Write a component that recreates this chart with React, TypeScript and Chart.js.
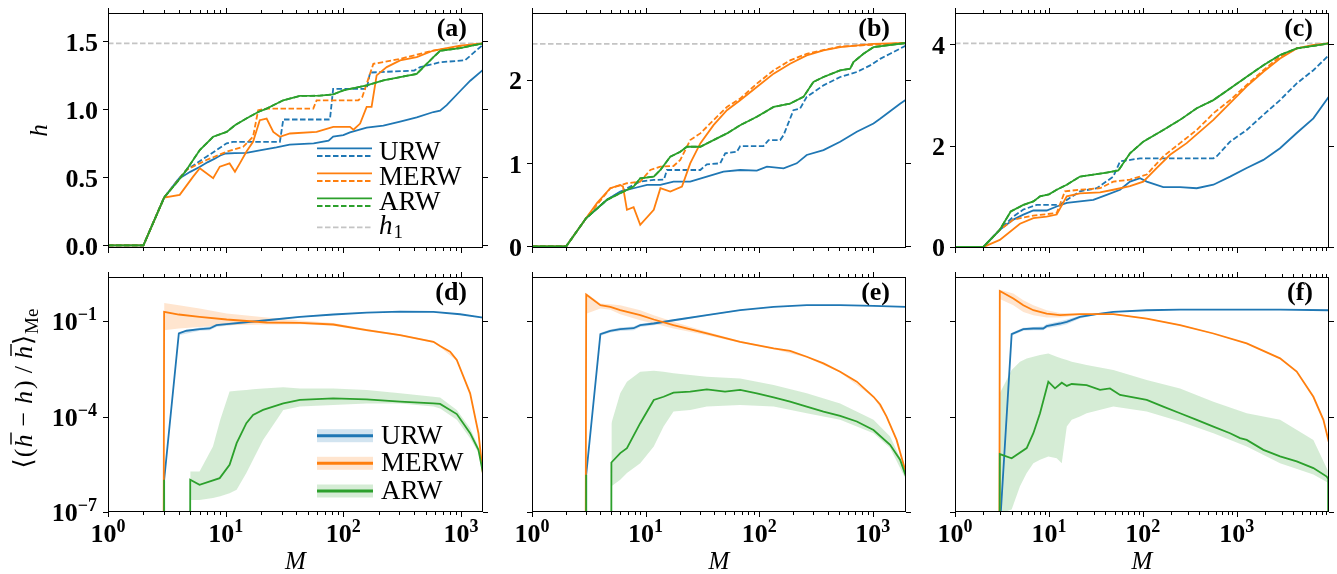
import React, { useEffect, useRef } from 'react';
import { Chart, registerables } from 'chart.js';

Chart.register(...registerables);

// ---------------- style constants ----------------
const FONT = "'Liberation Serif', 'DejaVu Serif', 'DejaVu Sans', serif";
const BLUE = '#1f77b4';
const ORANGE = '#ff7f0e';
const GREEN = '#2ca02c';
const GRAY = '#c4c4c4';
const BLUE_BAND = 'rgba(31,119,180,0.2)';
const ORANGE_BAND = 'rgba(255,127,14,0.2)';
const GREEN_BAND = 'rgba(44,160,44,0.2)';

// ---------------- axes ----------------
const X_MIN = 1;
const X_MAX = [1540, 1960, 9600];
const X_MAJOR = [1, 10, 100, 1000];
const X_MAJOR_EXP = ['0', '1', '2', '3'];
const X_MINOR_FACTORS = [2, 3, 4, 5, 6, 7, 8, 9];
const H1 = [1.485, 2.43, 4.02];
const Y_TOP_MIN = -0.02;
const Y_TOP_MAX = [1.708, 2.8, 4.62];
const Y_TOP_TICKS = [[0, 0.5, 1.0, 1.5], [0, 1, 2], [0, 2, 4]];
const Y_TOP_LABELS = [['0.0', '0.5', '1.0', '1.5'], ['0', '1', '2'], ['0', '2', '4']];
const Y_BOT_MIN = 1e-7;
const Y_BOT_MAX = 2.45;
const Y_BOT_TICKS = [1e-7, 1e-4, 1e-1];
const Y_BOT_EXP = ['\u22127', '\u22124', '\u22121'];
const PANEL_LABELS = [['(a)', '(b)', '(c)'], ['(d)', '(e)', '(f)']];
const SERIES_NAMES = ['URW', 'MERW', 'ARW'];

// ---------------- panel (a) ----------------
const A_URW_M = [1, 2, 3, 4, 5, 6, 7, 8, 9, 10, 12, 15, 20, 27, 35, 56, 75, 82, 100, 114, 158, 219, 304, 421, 584, 665, 757, 1000, 1200, 1540];
const A_URW_H = [0, 0, 0.351, 0.49, 0.54, 0.575, 0.61, 0.635, 0.66, 0.675, 0.678, 0.68, 0.7, 0.72, 0.74, 0.75, 0.77, 0.8, 0.81, 0.83, 0.865, 0.88, 0.91, 0.94, 0.98, 0.99, 1.03, 1.14, 1.21, 1.29];
const A_URWD_M = [1, 2, 3, 4, 4.64, 6.87, 10.2, 11.5, 28.9, 30.9, 77, 82, 158, 169, 400, 450, 665, 1083, 1300, 1540];
const A_URWD_H = [0, 0, 0.351, 0.49, 0.554, 0.651, 0.75, 0.76, 0.76, 0.925, 0.925, 1.15, 1.15, 1.27, 1.285, 1.31, 1.346, 1.36, 1.42, 1.475];
const A_MERW_M = [1, 2, 3, 4.07, 5.29, 6.03, 7.83, 8.92, 10.8, 12.0, 13.2, 15.0, 17.1, 19.5, 22.3, 25.4, 28.9, 35.2, 59.3, 82.2, 114, 122, 139, 158, 174, 192, 234, 304, 421, 584, 984, 1540];
const A_MERW_H = [0, 0, 0.351, 0.371, 0.505, 0.566, 0.493, 0.578, 0.602, 0.541, 0.602, 0.688, 0.761, 0.92, 0.932, 0.834, 0.798, 0.822, 0.834, 0.871, 0.871, 0.85, 0.895, 1.017, 1.017, 1.249, 1.31, 1.359, 1.383, 1.432, 1.468, 1.485];
const A_MERWD_M = [1, 2, 3, 4.64, 6.87, 10.2, 14.1, 17.1, 18.9, 22.3, 55.6, 59.3, 134, 145, 180, 304, 584, 1540];
const A_MERWD_H = [0, 0, 0.351, 0.554, 0.627, 0.688, 0.724, 0.798, 0.993, 1.005, 1.005, 1.066, 1.066, 1.09, 1.334, 1.371, 1.432, 1.485];
const A_ARW_M = [1, 2, 3, 4, 4.64, 6.03, 7.83, 10.2, 12, 15, 18.9, 22.3, 25.4, 30.9, 42.8, 63.3, 82.2, 100, 158, 219, 304, 421, 480, 584, 665, 984, 1540];
const A_ARW_H = [0, 0, 0.351, 0.48, 0.554, 0.7, 0.798, 0.834, 0.883, 0.932, 0.98, 1.005, 1.03, 1.066, 1.098, 1.1, 1.11, 1.139, 1.176, 1.212, 1.237, 1.26, 1.31, 1.383, 1.43, 1.45, 1.485];

// ---------------- panel (b) ----------------
const B_URW_M = [1, 2, 3, 4.57, 5.98, 7.84, 10.3, 13.5, 17.6, 24.7, 34.6, 48.5, 68, 95.3, 117, 164, 214, 262, 368, 516, 723, 1014, 1160, 1420, 1738, 1960];
const B_URW_H = [0, 0, 0.339, 0.558, 0.657, 0.697, 0.737, 0.737, 0.777, 0.777, 0.837, 0.896, 0.916, 0.908, 0.956, 0.936, 0.996, 1.096, 1.155, 1.255, 1.375, 1.474, 1.53, 1.62, 1.71, 1.76];
const B_URWD_M = [1, 2, 3, 4.57, 6.85, 8.97, 11.8, 14.5, 15.4, 30.3, 34.6, 45.4, 50.2, 63.6, 68, 109, 121, 153, 164, 200, 229, 262, 368, 516, 723, 948, 1160, 1420, 1960];
const B_URWD_H = [0, 0, 0.339, 0.558, 0.697, 0.777, 0.797, 0.8, 0.916, 0.916, 0.984, 0.996, 1.116, 1.135, 1.203, 1.203, 1.275, 1.275, 1.335, 1.633, 1.653, 1.793, 1.932, 2.032, 2.092, 2.171, 2.25, 2.311, 2.41];
const B_MERW_M = [1, 2, 3, 3.73, 4.89, 5.98, 6.32, 6.85, 7.84, 8.97, 11.8, 13.5, 16.5, 20.9, 24.7, 30.3, 39.6, 52, 68, 95.3, 134, 187, 262, 368, 516, 1014, 1960];
const B_MERW_H = [0, 0, 0.339, 0.518, 0.697, 0.737, 0.717, 0.438, 0.47, 0.259, 0.438, 0.697, 0.657, 0.717, 0.996, 1.235, 1.454, 1.633, 1.753, 1.912, 2.072, 2.191, 2.291, 2.351, 2.39, 2.43, 2.44];
const B_MERWD_M = [1, 2, 3, 4.89, 6.85, 8.97, 11.0, 13.5, 17.6, 20.2, 24.7, 30.3, 39.6, 52, 68, 95.3, 134, 187, 262, 516, 1960];
const B_MERWD_H = [0, 0, 0.339, 0.697, 0.757, 0.777, 0.916, 0.956, 0.964, 1.036, 1.275, 1.355, 1.514, 1.673, 1.773, 1.952, 2.112, 2.231, 2.311, 2.398, 2.44];
const B_ARW_M = [1, 2, 3, 4.57, 5.98, 7.84, 8.97, 11.8, 13.5, 16.5, 20.2, 23.1, 30.3, 39.6, 52, 68, 95.3, 134, 187, 245, 300, 368, 516, 632, 676, 828, 1014, 1960];
const B_ARW_H = [0, 0, 0.339, 0.558, 0.637, 0.717, 0.817, 0.837, 0.916, 1.076, 1.135, 1.195, 1.195, 1.275, 1.355, 1.454, 1.554, 1.673, 1.713, 1.793, 1.972, 2.032, 2.112, 2.131, 2.211, 2.311, 2.39, 2.44];

// ---------------- panel (c) ----------------
const C_URW_M = [1, 2, 3, 4.18, 5.34, 6.83, 9.46, 12.1, 15.5, 21.4, 29.7, 41.2, 57.2, 73, 93.4, 110, 165, 249, 375, 564, 849, 1277, 1922, 2891, 4350, 6546, 9600];
const C_URW_H = [0, 0, 0.34, 0.54, 0.64, 0.72, 0.72, 0.8, 0.87, 0.9, 0.93, 1.03, 1.13, 1.29, 1.36, 1.29, 1.18, 1.18, 1.16, 1.23, 1.39, 1.56, 1.72, 1.95, 2.25, 2.54, 2.97];
const C_URWD_M = [1, 2, 3, 4.18, 5.34, 7.41, 13.1, 15.5, 21.4, 32.3, 48.5, 57.2, 93.4, 564, 612, 849, 1277, 1922, 2891, 4350, 6546, 9600];
const C_URWD_H = [0, 0, 0.34, 0.6, 0.74, 0.83, 0.83, 0.93, 1.1, 1.16, 1.39, 1.69, 1.75, 1.75, 1.79, 2.08, 2.31, 2.61, 2.9, 3.23, 3.49, 3.79];
const C_MERW_M = [1, 2, 3, 4.92, 6.83, 9.46, 12.1, 15.5, 21.4, 35, 48.5, 73, 101, 141, 195, 293, 564, 849, 1277, 1922, 2891, 4350, 6546, 9600];
const C_MERW_H = [0, 0, 0.14, 0.46, 0.57, 0.6, 0.64, 1.0, 1.06, 1.08, 1.13, 1.2, 1.29, 1.56, 1.82, 2.05, 2.51, 2.84, 3.17, 3.46, 3.72, 3.92, 3.99, 4.02];
const C_MERWD_M = [1, 2, 3, 4.18, 6.83, 12.1, 14.8, 21.4, 35, 48.5, 73, 110, 165, 249, 375, 564, 849, 1277, 1922, 2891, 4350, 9600];
const C_MERWD_H = [0, 0, 0.34, 0.54, 0.62, 0.67, 1.1, 1.13, 1.16, 1.29, 1.33, 1.43, 1.79, 2.05, 2.31, 2.64, 2.9, 3.2, 3.49, 3.76, 3.92, 4.02];
const C_ARW_M = [1, 2, 3, 3.92, 5.34, 6.83, 8.04, 10, 12.1, 15.5, 21.4, 29.7, 41.2, 54.9, 73, 101, 165, 249, 375, 564, 849, 1277, 1922, 2891, 4350, 6546, 9600];
const C_ARW_H = [0, 0, 0.34, 0.7, 0.83, 0.9, 1.0, 1.04, 1.13, 1.23, 1.39, 1.43, 1.47, 1.51, 1.85, 2.08, 2.31, 2.51, 2.74, 2.9, 3.13, 3.36, 3.59, 3.79, 3.92, 3.97, 4.02];

// ---------------- panel (d) ----------------
const D_URW_M = [2, 3, 4, 4.64, 6.03, 7.33, 8.36, 10.2, 22.3, 42.8, 82.2, 158, 304, 584, 984, 1540];
const D_URW_V = [1e-300, 1.0e-6, 0.041, 0.05, 0.056, 0.059, 0.075, 0.0805, 0.107, 0.137, 0.162, 0.187, 0.2, 0.195, 0.165, 0.13];
const D_URW_BAND_M = [4, 6.03, 7.33, 8.36, 10.2, 22.3, 42.8, 82.2, 158, 304, 584, 984, 1540];
const D_URW_LO = [0.036, 0.05, 0.052, 0.066, 0.072, 0.1, 0.131, 0.157, 0.183, 0.196, 0.191, 0.161, 0.127];
const D_URW_HI = [0.046, 0.063, 0.068, 0.082, 0.088, 0.114, 0.143, 0.167, 0.191, 0.204, 0.199, 0.169, 0.133];
const D_MERW_M = [2, 3, 4, 6, 10.2, 22.3, 42.8, 82.2, 158, 304, 584, 665, 809, 922, 1197, 1409, 1540];
const D_MERW_V = [1e-300, 0.196, 0.162, 0.137, 0.113, 0.0908, 0.0887, 0.0786, 0.0522, 0.0364, 0.0225, 0.0165, 0.011, 0.006, 5.4e-4, 3.0e-5, 1.5e-6];
const D_MERW_BAND_M = [3, 4, 6, 10.2, 22.3, 42.8, 82.2, 158, 304, 584, 665, 922, 1197, 1409, 1540];
const D_MERW_LO = [0.052, 0.059, 0.066, 0.075, 0.079, 0.08, 0.072, 0.048, 0.034, 0.021, 0.0155, 0.0056, 5.0e-4, 2.7e-5, 1.3e-6];
const D_MERW_HI = [0.376, 0.318, 0.249, 0.174, 0.13, 0.105, 0.088, 0.057, 0.039, 0.024, 0.0175, 0.0064, 5.8e-4, 3.3e-5, 1.7e-6];
const D_ARW_M = [2, 3, 4, 5, 6, 8.9, 10.8, 12.4, 15, 17.1, 20.8, 30.9, 42.8, 82.2, 158, 304, 584, 665, 922, 1197, 1409, 1540];
const D_ARW_V = [1e-300, 1.03e-6, 1e-300, 1.03e-6, 7.2e-7, 1.16e-6, 3.05e-6, 1.46e-5, 6.2e-5, 1.13e-4, 1.62e-4, 2.62e-4, 3.33e-4, 3.76e-4, 3.5e-4, 2.95e-4, 2.62e-4, 2.5e-4, 1.2e-4, 3.0e-5, 9.0e-6, 1.67e-6];
const D_ARW_BAND_M = [5, 6, 7.8, 9, 10.8, 12.4, 15, 17.1, 20.8, 30.9, 42.8, 82.2, 158, 304, 584, 665, 922, 1197, 1409, 1540];
const D_ARW_LO = [2.4e-7, 2.4e-7, 2.75e-7, 3.1e-7, 3.9e-7, 5.0e-7, 1.67e-6, 4.4e-6, 1.85e-5, 1.6e-4, 2.06e-4, 2.3e-4, 2.6e-4, 2.6e-4, 2.06e-4, 1.8e-4, 7.9e-5, 2.1e-5, 7.1e-6, 1.3e-6];
const D_ARW_HI = [1.88e-6, 1.88e-6, 1.15e-5, 7.9e-5, 6.1e-4, 6.5e-4, 6.9e-4, 7.3e-4, 7.7e-4, 8.3e-4, 7.7e-4, 7.7e-4, 6.9e-4, 5.4e-4, 4.2e-4, 4.0e-4, 1.6e-4, 4.3e-5, 1.15e-5, 1.9e-6];

// ---------------- panel (e) ----------------
const E_URW_M = [2, 3, 4, 4.89, 5.98, 7.84, 8.97, 11.8, 17.6, 34.6, 68, 134, 262, 516, 1014, 1960];
const E_URW_V = [1e-300, 1.48e-6, 0.039, 0.0498, 0.0561, 0.06, 0.075, 0.0845, 0.107, 0.154, 0.221, 0.281, 0.318, 0.318, 0.303, 0.281];
const E_URW_BAND_M = [4, 4.89, 5.98, 7.84, 8.97, 11.8, 17.6, 34.6, 68, 134, 262, 516, 1014, 1960];
const E_URW_LO = [0.035, 0.044, 0.049, 0.052, 0.066, 0.075, 0.098, 0.146, 0.213, 0.274, 0.312, 0.312, 0.297, 0.276];
const E_URW_HI = [0.043, 0.055, 0.063, 0.068, 0.083, 0.094, 0.116, 0.162, 0.229, 0.288, 0.324, 0.324, 0.309, 0.286];
const E_MERW_M = [2, 3, 4, 4.89, 5.98, 8.97, 11.8, 17.6, 34.6, 68, 95.3, 134, 187, 262, 368, 516, 723, 1014, 1160, 1322, 1620, 1960];
const E_MERW_V = [1e-300, 0.685, 0.318, 0.281, 0.221, 0.154, 0.113, 0.075, 0.041, 0.0225, 0.0177, 0.0139, 0.0117, 0.0076, 0.0047, 0.00258, 0.00125, 4.2e-4, 2.4e-4, 1.0e-4, 1.85e-5, 1.67e-6];
const E_MERW_BAND_M = [3, 4, 4.89, 5.98, 8.97, 11.8, 17.6, 34.6, 68, 134, 262, 516, 1014, 1322, 1620, 1960];
const E_MERW_LO = [0.17, 0.25, 0.23, 0.166, 0.107, 0.0845, 0.0589, 0.0364, 0.021, 0.0132, 0.0072, 0.00245, 4.0e-4, 0.95e-4, 1.75e-5, 1.6e-6];
const E_MERW_HI = [0.77, 0.36, 0.34, 0.318, 0.221, 0.154, 0.0955, 0.0462, 0.024, 0.0146, 0.008, 0.0027, 4.4e-4, 1.05e-4, 1.95e-5, 1.75e-6];
const E_ARW_M = [2, 3, 4, 5, 5.98, 6.85, 8.97, 11.8, 14.4, 17.6, 24.7, 34.6, 50, 68, 95.3, 134, 187, 262, 368, 516, 723, 1014, 1420, 1738, 1960];
const E_ARW_V = [1e-300, 1.48e-6, 1e-300, 3.6e-6, 7.1e-6, 1.02e-5, 6.2e-5, 3.33e-4, 4.2e-4, 5.7e-4, 6.1e-4, 7.2e-4, 6.1e-4, 6.9e-4, 5.4e-4, 4.0e-4, 2.95e-4, 2.06e-4, 1.44e-4, 1.05e-4, 7.0e-5, 3.8e-5, 1.3e-5, 4.4e-6, 1.3e-6];
const E_ARW_BAND_M = [5, 5.98, 6.85, 8.97, 11.8, 14.4, 17.6, 24.7, 34.6, 68, 134, 262, 516, 1014, 1420, 1960];
const E_ARW_LO = [6.4e-7, 1.03e-6, 1.67e-6, 3.4e-6, 1.15e-5, 4.85e-5, 1.44e-4, 1.62e-4, 2.06e-4, 2.3e-4, 2.06e-4, 1.27e-4, 7.9e-5, 3.0e-5, 1.02e-5, 1.03e-6];
const E_ARW_HI = [6.2e-5, 5.4e-4, 1.25e-3, 2.58e-3, 2.77e-3, 2.58e-3, 2.29e-3, 2.03e-3, 1.8e-3, 1.59e-3, 9.8e-4, 5.4e-4, 2.6e-4, 7.9e-5, 2.36e-5, 2.1e-6];

// ---------------- panel (f) ----------------
const F_URW_M = [2, 3, 4.01, 5.34, 6.83, 8.7, 9.46, 13.1, 15.5, 21.4, 32.3, 48.5, 110, 249, 564, 2891, 9600];
const F_URW_V = [1e-300, 3e-8, 0.039, 0.0561, 0.0589, 0.0589, 0.0697, 0.0845, 0.0953, 0.137, 0.166, 0.196, 0.221, 0.232, 0.232, 0.232, 0.221];
const F_URW_BAND_M = [4.01, 5.34, 6.83, 8.7, 9.46, 13.1, 15.5, 21.4, 32.3, 48.5, 110, 249, 564, 2891, 9600];
const F_URW_LO = [0.035, 0.05, 0.052, 0.052, 0.06, 0.07, 0.08, 0.122, 0.158, 0.19, 0.216, 0.228, 0.228, 0.228, 0.217];
const F_URW_HI = [0.043, 0.062, 0.066, 0.068, 0.082, 0.1, 0.112, 0.15, 0.174, 0.202, 0.226, 0.236, 0.236, 0.236, 0.225];
const F_MERW_M = [2, 3, 4.18, 5.34, 6.83, 9.46, 13.1, 21.4, 48.5, 110, 249, 564, 1277, 2891, 4350, 6546, 8370, 9600];
const F_MERW_V = [1e-300, 0.893, 0.514, 0.318, 0.221, 0.174, 0.154, 0.166, 0.166, 0.121, 0.075, 0.041, 0.02, 0.0068, 0.0026, 4.2e-4, 7.9e-5, 1.5e-5];
const F_MERW_BAND_M = [3, 4.18, 5.34, 6.83, 9.46, 13.1, 21.4, 48.5, 110, 249, 564, 1277, 2891, 4350, 6546, 8370, 9600];
const F_MERW_LO = [0.5, 0.318, 0.196, 0.154, 0.13, 0.13, 0.154, 0.16, 0.117, 0.072, 0.0395, 0.0193, 0.0065, 0.0025, 4.0e-4, 7.5e-5, 1.4e-5];
const F_MERW_HI = [0.98, 0.738, 0.456, 0.318, 0.221, 0.182, 0.174, 0.172, 0.125, 0.078, 0.0425, 0.0207, 0.0071, 0.0027, 4.4e-4, 8.3e-5, 1.6e-5];
const F_ARW_M = [2, 3, 4.01, 5.8, 6.83, 8.04, 9.86, 11.6, 13.7, 15.5, 17.5, 25.2, 35, 44.7, 57.2, 110, 165, 249, 375, 564, 849, 1084, 1277, 1922, 2891, 4350, 6546, 9080, 9400, 9600];
const F_ARW_V = [1e-300, 6.6e-6, 4.9e-6, 1.02e-5, 3.0e-5, 1.27e-4, 1.25e-3, 7.7e-4, 1.16e-3, 9.2e-4, 1.06e-3, 9.8e-4, 6.9e-4, 7.7e-4, 4.8e-4, 3.33e-4, 2.06e-4, 1.27e-4, 7.9e-5, 4.85e-5, 3.0e-5, 2.1e-5, 1.85e-5, 9.0e-6, 5.6e-6, 3.9e-6, 2.4e-6, 1.3e-6, 1.1e-6, 1e-300];
const F_ARW_BAND_M = [3, 4.01, 4.92, 5.8, 6.83, 8.04, 9.86, 12.1, 13.7, 15.5, 17.5, 21.4, 25.2, 48.5, 110, 249, 564, 1277, 2891, 6546, 9600];
const F_ARW_LO = [9e-8, 1.2e-7, 6.4e-7, 1.67e-6, 3.4e-6, 4.4e-6, 5.6e-6, 4.9e-6, 3.4e-6, 4.85e-5, 7.9e-5, 1.0e-4, 1.27e-4, 2.06e-4, 1.44e-4, 7.0e-5, 3.0e-5, 1.15e-5, 3.4e-6, 1.5e-6, 8e-7];
const F_ARW_HI = [5.4e-4, 2.9e-3, 5.3e-3, 6.7e-3, 7.6e-3, 8.6e-3, 9.7e-3, 7.6e-3, 6.7e-3, 6.0e-3, 5.3e-3, 4.7e-3, 4.2e-3, 2.9e-3, 1.41e-3, 7.7e-4, 2.95e-4, 1.27e-4, 7.9e-5, 1.85e-5, 1.67e-6];

// ---------------- grouping ----------------
const TOP_SERIES = [
  { urw: [A_URW_M, A_URW_H], urwd: [A_URWD_M, A_URWD_H], merw: [A_MERW_M, A_MERW_H], merwd: [A_MERWD_M, A_MERWD_H], arw: [A_ARW_M, A_ARW_H], arwd: [A_ARW_M, A_ARW_H] },
  { urw: [B_URW_M, B_URW_H], urwd: [B_URWD_M, B_URWD_H], merw: [B_MERW_M, B_MERW_H], merwd: [B_MERWD_M, B_MERWD_H], arw: [B_ARW_M, B_ARW_H], arwd: [B_ARW_M, B_ARW_H] },
  { urw: [C_URW_M, C_URW_H], urwd: [C_URWD_M, C_URWD_H], merw: [C_MERW_M, C_MERW_H], merwd: [C_MERWD_M, C_MERWD_H], arw: [C_ARW_M, C_ARW_H], arwd: [C_ARW_M, C_ARW_H] },
];
const BOT_SERIES = [
  { urw: [D_URW_M, D_URW_V], urwB: [D_URW_BAND_M, D_URW_LO, D_URW_HI], merw: [D_MERW_M, D_MERW_V], merwB: [D_MERW_BAND_M, D_MERW_LO, D_MERW_HI], arw: [D_ARW_M, D_ARW_V], arwB: [D_ARW_BAND_M, D_ARW_LO, D_ARW_HI] },
  { urw: [E_URW_M, E_URW_V], urwB: [E_URW_BAND_M, E_URW_LO, E_URW_HI], merw: [E_MERW_M, E_MERW_V], merwB: [E_MERW_BAND_M, E_MERW_LO, E_MERW_HI], arw: [E_ARW_M, E_ARW_V], arwB: [E_ARW_BAND_M, E_ARW_LO, E_ARW_HI] },
  { urw: [F_URW_M, F_URW_V], urwB: [F_URW_BAND_M, F_URW_LO, F_URW_HI], merw: [F_MERW_M, F_MERW_V], merwB: [F_MERW_BAND_M, F_MERW_LO, F_MERW_HI], arw: [F_ARW_M, F_ARW_V], arwB: [F_ARW_BAND_M, F_ARW_LO, F_ARW_HI] },
];

// ---------------- layout ----------------
const COL_LEFT = [108, 532, 955];
const COL_WIDTH = [375, 374, 374];
const ROW_TOP = [13, 277];
const ROW_HEIGHT = 235;
const M_LEFT = 100;
const M_TOP = 12;
const M_RIGHT = 30;
const M_BOTTOM = 64;

const pts = (m: number[], v: number[]) => m.map((x, i) => ({ x, y: v[i] }));

const lineDs = (label: string, m: number[], v: number[], color: string, dashed: boolean, order = 0) => ({
  label,
  data: pts(m, v),
  borderColor: color,
  backgroundColor: color,
  borderWidth: 1.8,
  borderDash: dashed ? [5.5, 2.5] : [],
  pointRadius: 0,
  pointHoverRadius: 0,
  fill: false,
  tension: 0,
  order,
  clip: 0,
});

const bandDs = (b: number[][], color: string) => [
  { label: 'hi', data: pts(b[0], b[2]), borderColor: 'rgba(0,0,0,0)', borderWidth: 0, backgroundColor: color, pointRadius: 0, fill: '+1', tension: 0, order: 10, clip: 0 },
  { label: 'lo', data: pts(b[0], b[1]), borderColor: 'rgba(0,0,0,0)', borderWidth: 0, backgroundColor: color, pointRadius: 0, fill: false, tension: 0, order: 10, clip: 0 },
];

const drawPow = (ctx: CanvasRenderingContext2D, exp: string, x: number, y: number, align: string) => {
  const base = `bold 26px ${FONT}`;
  const sup = `bold 18px ${FONT}`;
  ctx.font = base;
  const wb = ctx.measureText('10').width;
  ctx.font = sup;
  const we = ctx.measureText(exp).width;
  const x0 = align === 'center' ? x - (wb + we) / 2 : x - wb - we;
  ctx.textAlign = 'left';
  ctx.textBaseline = 'alphabetic';
  ctx.fillStyle = '#000';
  ctx.font = base;
  ctx.fillText('10', x0, y);
  ctx.font = sup;
  ctx.fillText(exp, x0 + wb, y - 10);
};

const drawMathLabel = (ctx: CanvasRenderingContext2D, x: number, y: number) => {
  ctx.save();
  ctx.translate(x, y);
  ctx.rotate(-Math.PI / 2);
  const R = `26px ${FONT}`;
  const I = `italic 26px ${FONT}`;
  const S = `19px ${FONT}`;
  const parts: any[] = [
    { t: '\u27E8', f: R, gap: 1 },
    { t: '(', f: R, gap: 1 },
    { t: 'h', f: I, bar: true, gap: 8 },
    { t: '\u2212', f: R, gap: 8 },
    { t: 'h', f: I, gap: 2 },
    { t: ')', f: R, gap: 7 },
    { t: '/', f: R, gap: 7 },
    { t: 'h', f: I, bar: true, gap: 1 },
    { t: '\u27E9', f: R, gap: 1 },
    { t: 'Me', f: S, dy: 6, gap: 0 },
  ];
  let total = 0;
  for (const p of parts) {
    ctx.font = p.f;
    p.w = ctx.measureText(p.t).width;
    total += p.w + p.gap;
  }
  let cx = -total / 2;
  ctx.fillStyle = '#000';
  ctx.strokeStyle = '#000';
  ctx.textAlign = 'left';
  ctx.textBaseline = 'alphabetic';
  for (const p of parts) {
    ctx.font = p.f;
    ctx.fillText(p.t, cx, p.dy || 0);
    if (p.bar) {
      ctx.lineWidth = 1.4;
      ctx.beginPath();
      ctx.moveTo(cx + 3, -21);
      ctx.lineTo(cx + p.w + 2, -21);
      ctx.stroke();
    }
    cx += p.w + p.gap;
  }
  ctx.restore();
};

const makeDecor = (col: number, row: number) => ({
  id: `decor${row}${col}`,
  afterDraw(chart: any) {
    const ctx: CanvasRenderingContext2D = chart.ctx;
    const a = chart.chartArea;
    const xs = chart.scales.x;
    const ys = chart.scales.y;
    const n = X_MAX[col];
    const seg = (x1: number, y1: number, x2: number, y2: number) => {
      ctx.beginPath();
      ctx.moveTo(x1, y1);
      ctx.lineTo(x2, y2);
      ctx.stroke();
    };
    ctx.save();
    ctx.strokeStyle = '#000';
    ctx.lineWidth = 1;
    ctx.setLineDash([]);
    // x ticks (bottom and top, outward)
    for (const base of X_MAJOR) {
      for (const k of X_MINOR_FACTORS) {
        const v = base * k;
        if (v > n) continue;
        const px = Math.round(xs.getPixelForValue(v)) + 0.5;
        seg(px, a.bottom, px, a.bottom + 3);
        seg(px, a.top, px, a.top - 3);
      }
    }
    for (const v of X_MAJOR) {
      if (v > n) continue;
      const px = Math.round(xs.getPixelForValue(v)) + 0.5;
      seg(px, a.bottom, px, a.bottom + 5);
      seg(px, a.top, px, a.top - 5);
    }
    // y ticks (left and right, outward)
    const yt = row === 0 ? Y_TOP_TICKS[col] : Y_BOT_TICKS;
    for (const v of yt) {
      const py = Math.round(ys.getPixelForValue(v)) + 0.5;
      seg(a.left, py, a.left - 5, py);
      seg(a.right, py, a.right + 5, py);
    }
    // frame
    ctx.strokeRect(a.left + 0.5, a.top + 0.5, a.right - a.left - 1, a.bottom - a.top - 1);

    // y tick labels of the top row
    if (row === 0) {
      ctx.font = `bold 26px ${FONT}`;
      ctx.fillStyle = '#000';
      ctx.textAlign = 'right';
      ctx.textBaseline = 'alphabetic';
      Y_TOP_TICKS[col].forEach((v, i) => {
        ctx.fillText(Y_TOP_LABELS[col][i], a.left - 10, ys.getPixelForValue(v) + 9.5);
      });
    }

    // power-of-ten labels in the bottom row
    if (row === 1) {
      X_MAJOR.forEach((v, i) => {
        if (v > n) return;
        drawPow(ctx, X_MAJOR_EXP[i], xs.getPixelForValue(v), a.bottom + 30, 'center');
      });
      if (col === 0) {
        Y_BOT_TICKS.forEach((v, i) => {
          drawPow(ctx, Y_BOT_EXP[i], a.left - 11, ys.getPixelForValue(v) + 9, 'right');
        });
      }
      ctx.font = `italic 25px ${FONT}`;
      ctx.fillStyle = '#000';
      ctx.textAlign = 'center';
      ctx.textBaseline = 'alphabetic';
      ctx.fillText('M', (a.left + a.right) / 2, a.bottom + 57);
    }

    // panel label
    ctx.font = `bold 26px ${FONT}`;
    ctx.fillStyle = '#000';
    ctx.textAlign = 'right';
    ctx.textBaseline = 'middle';
    ctx.fillText(PANEL_LABELS[row][col], a.right - 16, a.top + 16);

    // y-axis titles
    if (col === 0 && row === 0) {
      ctx.save();
      ctx.translate(a.left - 68, (a.top + a.bottom) / 2);
      ctx.rotate(-Math.PI / 2);
      ctx.font = `italic 25px ${FONT}`;
      ctx.textAlign = 'center';
      ctx.textBaseline = 'middle';
      ctx.fillText('h', 0, 0);
      ctx.restore();
    }
    if (col === 0 && row === 1) {
      drawMathLabel(ctx, a.left - 76, (a.top + a.bottom) / 2 - 6);
    }

    // legends
    const colors = [BLUE, ORANGE, GREEN];
    if (col === 0 && row === 0) {
      const x0 = a.right - 166;
      const x1 = a.right - 111;
      const tx = a.right - 104;
      const rowsY = [135.3, 160.3, 185.3];
      ctx.lineWidth = 1.8;
      rowsY.forEach((ry, i) => {
        const y = a.top + ry;
        ctx.strokeStyle = colors[i];
        ctx.setLineDash([]);
        seg(x0, y, x1, y);
        ctx.setLineDash([5.5, 2.5]);
        seg(x0, y + 7.7, x1, y + 7.7);
        ctx.setLineDash([]);
        ctx.font = `27px ${FONT}`;
        ctx.fillStyle = '#000';
        ctx.textAlign = 'left';
        ctx.textBaseline = 'middle';
        ctx.fillText(SERIES_NAMES[i], tx, y + 4.5);
      });
      const yh = a.top + 214.3;
      ctx.strokeStyle = GRAY;
      ctx.setLineDash([5.5, 2.5]);
      seg(x0, yh, x1, yh);
      ctx.setLineDash([]);
      ctx.fillStyle = '#000';
      ctx.textAlign = 'left';
      ctx.textBaseline = 'middle';
      ctx.font = `italic 27px ${FONT}`;
      ctx.fillText('h', tx, yh);
      const wh = ctx.measureText('h').width;
      ctx.font = `19px ${FONT}`;
      ctx.fillText('1', tx + wh + 1, yh + 6);
    }
    if (col === 0 && row === 1) {
      const x0 = a.right - 166;
      const x1 = a.right - 110;
      const tx = a.right - 102;
      const rowsY = [158.7, 186.3, 214];
      const bands = [BLUE_BAND, ORANGE_BAND, GREEN_BAND];
      rowsY.forEach((ry, i) => {
        const y = a.top + ry;
        ctx.fillStyle = bands[i];
        ctx.fillRect(x0, y - 6.5, x1 - x0, 13);
        ctx.strokeStyle = colors[i];
        ctx.lineWidth = 3;
        ctx.setLineDash([]);
        seg(x0, y, x1, y);
        ctx.font = `27px ${FONT}`;
        ctx.fillStyle = '#000';
        ctx.textAlign = 'left';
        ctx.textBaseline = 'middle';
        ctx.fillText(SERIES_NAMES[i], tx, y + 1);
      });
    }
    ctx.restore();
  },
});

function buildConfig(col: number, row: number): any {
  const n = X_MAX[col];
  const datasets: any[] = [];
  if (row === 0) {
    const s = TOP_SERIES[col];
    datasets.push(lineDs('ARW (dashed)', s.arwd[0], s.arwd[1], GREEN, true));
    datasets.push(lineDs('ARW', s.arw[0], s.arw[1], GREEN, false));
    datasets.push(lineDs('MERW (dashed)', s.merwd[0], s.merwd[1], ORANGE, true));
    datasets.push(lineDs('MERW', s.merw[0], s.merw[1], ORANGE, false));
    datasets.push(lineDs('URW (dashed)', s.urwd[0], s.urwd[1], BLUE, true));
    datasets.push(lineDs('URW', s.urw[0], s.urw[1], BLUE, false));
    datasets.push(lineDs('h1', [X_MIN, n], [H1[col], H1[col]], GRAY, true, 1));
  } else {
    const s = BOT_SERIES[col];
    datasets.push(lineDs('ARW', s.arw[0], s.arw[1], GREEN, false));
    datasets.push(lineDs('MERW', s.merw[0], s.merw[1], ORANGE, false));
    datasets.push(lineDs('URW', s.urw[0], s.urw[1], BLUE, false));
    datasets.push(...bandDs(s.arwB, GREEN_BAND));
    datasets.push(...bandDs(s.merwB, ORANGE_BAND));
    datasets.push(...bandDs(s.urwB, BLUE_BAND));
  }

  const xScale = {
    type: 'logarithmic',
    position: 'bottom',
    min: X_MIN,
    max: n,
    grid: { display: false },
    border: { display: false },
    ticks: { display: false },
    afterBuildTicks: (sc: any) => {
      sc.ticks = X_MAJOR.filter((v) => v <= n).map((v) => ({ value: v, major: true }));
    },
    afterFit: (sc: any) => {
      sc.height = M_BOTTOM;
    },
  };

  const yScale: any =
    row === 0
      ? {
          type: 'linear',
          position: 'left',
          min: Y_TOP_MIN,
          max: Y_TOP_MAX[col],
          grid: { display: false },
          border: { display: false },
          ticks: { display: false },
          afterBuildTicks: (sc: any) => {
            sc.ticks = Y_TOP_TICKS[col].map((v) => ({ value: v }));
          },
          afterFit: (sc: any) => {
            sc.width = M_LEFT;
          },
        }
      : {
          type: 'logarithmic',
          position: 'left',
          min: Y_BOT_MIN,
          max: Y_BOT_MAX,
          grid: { display: false },
          border: { display: false },
          ticks: { display: false },
          afterBuildTicks: (sc: any) => {
            sc.ticks = Y_BOT_TICKS.map((v) => ({ value: v }));
          },
          afterFit: (sc: any) => {
            sc.width = M_LEFT;
          },
        };

  return {
    type: 'line',
    data: { datasets },
    options: {
      responsive: false,
      animation: false,
      devicePixelRatio: 1,
      events: [],
      layout: { padding: { left: 0, top: M_TOP, right: M_RIGHT, bottom: 0 } },
      plugins: {
        legend: { display: false },
        tooltip: { enabled: false },
        title: { display: false },
      },
      scales: { x: xScale, y: yScale },
    },
    plugins: [makeDecor(col, row)],
  };
}

function Panel({ col, row }: { col: number; row: number }) {
  const ref = useRef<HTMLCanvasElement | null>(null);
  const w = COL_WIDTH[col] + M_LEFT + M_RIGHT;
  const h = ROW_HEIGHT + M_TOP + M_BOTTOM;
  useEffect(() => {
    if (!ref.current) return;
    const chart = new Chart(ref.current, buildConfig(col, row));
    return () => chart.destroy();
  }, [col, row]);
  return (
    <canvas
      ref={ref}
      width={w}
      height={h}
      style={{ position: 'absolute', left: COL_LEFT[col] - M_LEFT, top: ROW_TOP[row] - M_TOP, width: w, height: h }}
    />
  );
}

export default function App() {
  const cells: any[] = [];
  for (let row = 0; row < 2; row++) {
    for (let col = 0; col < 3; col++) {
      cells.push(<Panel key={`${row}-${col}`} col={col} row={row} />);
    }
  }
  return (
    <div style={{ position: 'absolute', left: 0, top: 0, width: 1337, height: 574, background: '#fff', overflow: 'hidden' }}>
      {cells}
    </div>
  );
}
